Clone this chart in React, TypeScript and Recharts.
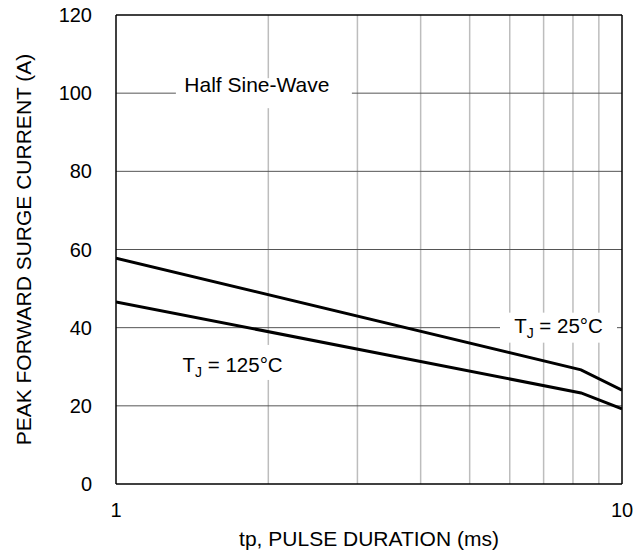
import { LineChart, Line, XAxis, YAxis, ReferenceLine, ReferenceDot, Label } from 'recharts';

// pulse duration (ms) and peak surge current (A)
const pulseMs = [1, 8.3, 10];
const currentTj25 = [57.8, 29.2, 24];
const currentTj125 = [46.6, 23.3, 19.2];

const xTicks = [1, 10];
const yTicks = [0, 20, 40, 60, 80, 100, 120];
const xMinorGrid = [2, 3, 4, 5, 6, 7, 8, 9];
const yGrid = [20, 40, 60, 80, 100];

const data = pulseMs.map((t, i) => ({ t, tj25: currentTj25[i], tj125: currentTj125[i] }));

const FONT = '"Liberation Sans", Arial, sans-serif';

function BoxedText(props: any) {
  const { cx, cy, parts, w, h = 32, dx = 0, base = 7, size = 20.5 } = props;
  if (cx == null || cy == null) return null;
  return (
    <g>
      <rect x={cx - w / 2} y={cy - h / 2} width={w} height={h} fill="#fff" />
      <text x={cx + dx} y={cy + base} textAnchor="middle" fontFamily={FONT} fontSize={size} fill="#000">
        {parts}
      </text>
    </g>
  );
}

const tj = (temp: string) => [
  <tspan key="a">T</tspan>,
  <tspan key="b" fontSize={14} dy={5}>J</tspan>,
  <tspan key="c" dy={-5}>{' = ' + temp + '°C'}</tspan>,
];

export default function App() {
  return (
    <div style={{ position: 'absolute', left: 0, top: 0, width: 644, height: 554, background: '#fff' }}>
      <LineChart width={644} height={554} data={data} margin={{ top: 15, right: 22, left: 46, bottom: 4 }}>
        <XAxis
          dataKey="t"
          type="number"
          scale="log"
          domain={[1, 10]}
          ticks={xTicks}
          allowDataOverflow
          tickLine={false}
          axisLine={{ stroke: '#000', strokeWidth: 1.5 }}
          tick={{ fill: '#000', fontSize: 20, fontFamily: FONT }}
          tickMargin={13}
          height={66}
        >
          <Label
            value="tp, PULSE DURATION (ms)"
            position="insideBottom"
            offset={4}
            style={{ fill: '#000', fontSize: 21, fontFamily: FONT }}
          />
        </XAxis>
        <YAxis
          type="number"
          domain={[0, 120]}
          ticks={yTicks}
          tickLine={false}
          axisLine={{ stroke: '#000', strokeWidth: 1.5 }}
          tick={{ fill: '#000', fontSize: 20, fontFamily: FONT }}
          tickMargin={18}
          width={70}
        >
          <Label
            value="PEAK FORWARD SURGE CURRENT (A)"
            angle={-90}
            position="insideLeft"
            offset={-22}
            style={{ textAnchor: 'middle', fill: '#000', fontSize: 21, fontFamily: FONT }}
          />
        </YAxis>
        {xMinorGrid.map((x) => (
          <ReferenceLine key={'vx' + x} x={x} stroke="#bdbdbd" strokeWidth={1.5} />
        ))}
        {yGrid.map((y) => (
          <ReferenceLine key={'hy' + y} y={y} stroke="#555" strokeWidth={1} />
        ))}
        <ReferenceLine y={120} stroke="#000" strokeWidth={1.5} />
        <ReferenceLine x={10} stroke="#000" strokeWidth={1.5} />
        <ReferenceDot
          x={1.96}
          y={100}
          r={0}
          shape={(p: any) => <BoxedText {...p} w={176} h={30} dx={-7} base={-1} size={21} parts="Half Sine-Wave" />}
        />
        <Line dataKey="tj25" stroke="#000" strokeWidth={3} dot={false} isAnimationActive={false} type="linear" />
        <Line dataKey="tj125" stroke="#000" strokeWidth={3} dot={false} isAnimationActive={false} type="linear" />
        <ReferenceDot
          x={7.49}
          y={40}
          r={0}
          shape={(p: any) => <BoxedText {...p} w={117} h={30} dx={0} base={5} parts={tj('25')} />}
        />
        <ReferenceDot
          x={1.7}
          y={31.1}
          r={0}
          shape={(p: any) => <BoxedText {...p} w={112} h={35} dx={0} base={10} parts={tj('125')} />}
        />
      </LineChart>
    </div>
  );
}
